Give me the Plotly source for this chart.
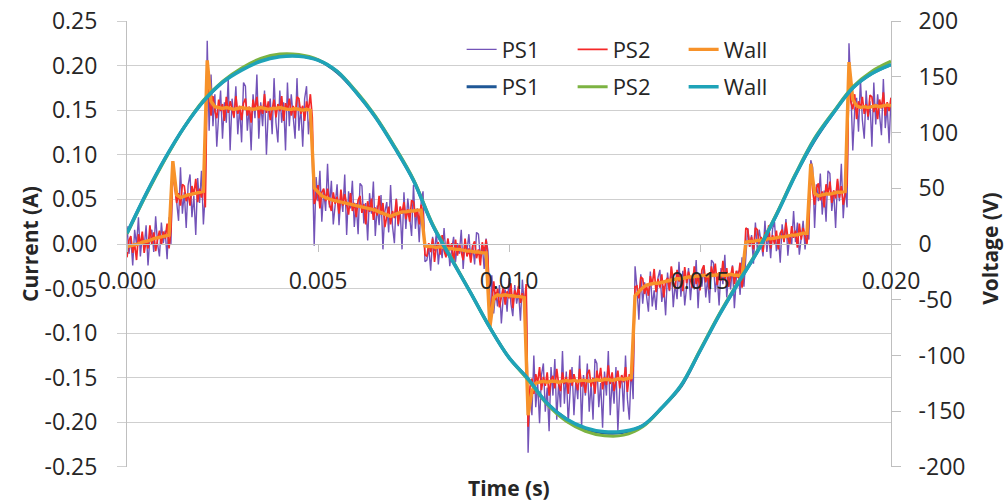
import plotly.graph_objects as go

# ---- data ----
t_fine = [round(j * 0.00005, 5) for j in range(401)]
t_current = [round(i * 0.0001, 4) for i in range(201)]
t_voltage = [round(i * 0.0005, 4) for i in range(41)]

current_ps1 = [
    0.020, -0.011, 0.007, -0.024, 0.016, -0.001, 0.030, -0.014, 0.011, -0.004,
    0.021, -0.024, 0.008, 0.016, -0.009, 0.031, 0.000, -0.014, 0.024, 0.001,
    0.015, -0.017, 0.030, 0.000, 0.090, 0.070, 0.050, 0.026, 0.086, 0.034,
    0.058, 0.018, 0.066, 0.078, 0.030, 0.054, 0.010, 0.074, 0.046, 0.082,
    0.022, 0.058, 0.228, 0.127, 0.190, 0.132, 0.168, 0.109, 0.145, 0.172,
    0.118, 0.159, 0.136, 0.186, 0.105, 0.163, 0.141, 0.177, 0.123, 0.154,
    0.114, 0.181, 0.177, 0.127, 0.154, 0.105, 0.168, 0.141, 0.190, 0.118,
    0.159, 0.132, 0.172, 0.100, 0.150, 0.163, 0.123, 0.186, 0.136, 0.114,
    0.172, 0.136, 0.159, 0.105, 0.181, 0.132, 0.168, 0.145, 0.118, 0.186,
    0.127, 0.154, 0.109, 0.163, 0.177, 0.123, 0.150, 0.100, -0.002, 0.075,
    0.048, 0.082, 0.025, 0.060, 0.037, 0.090, 0.041, 0.071, 0.022, 0.044,
    0.067, 0.021, 0.055, 0.036, 0.078, 0.010, 0.059, 0.040, 0.071, 0.019,
    0.046, 0.011, 0.068, 0.065, 0.023, 0.046, 0.004, 0.057, 0.034, 0.070,
    0.009, 0.043, 0.021, 0.055, -0.006, 0.036, 0.047, 0.013, 0.066, 0.020,
    0.001, 0.051, 0.020, 0.039, -0.006, 0.058, 0.017, 0.051, 0.032, 0.009,
    0.066, 0.017, 0.040, 0.002, 0.047, 0.059, -0.020, -0.018, -0.004, -0.030,
    0.008, -0.008, 0.013, -0.023, -0.001, -0.016, 0.018, -0.013, 0.006, -0.025,
    -0.006, 0.008, -0.020, 0.001, -0.011, 0.016, -0.028, 0.004, -0.008, 0.011,
    -0.018, -0.001, -0.023, 0.013, 0.011, -0.016, -0.001, -0.028, 0.006, -0.008,
    -0.095, -0.035, -0.078, -0.054, -0.070, -0.046, -0.089, -0.059, -0.051, -0.076,
    -0.038, -0.067, -0.081, -0.046, -0.067, -0.054, -0.086, -0.040, -0.070, -0.049,
    -0.234, -0.165, -0.192, -0.125, -0.183, -0.156, -0.201, -0.147, -0.134, -0.188,
    -0.161, -0.210, -0.138, -0.170, -0.129, -0.197, -0.156, -0.183, -0.120, -0.179,
    -0.143, -0.201, -0.165, -0.138, -0.192, -0.152, -0.174, -0.125, -0.206, -0.147,
    -0.170, -0.134, -0.188, -0.156, -0.197, -0.129, -0.134, -0.183, -0.156, -0.206,
    -0.143, -0.170, -0.120, -0.192, -0.152, -0.179, -0.138, -0.210, -0.161, -0.147,
    -0.188, -0.125, -0.174, -0.197, -0.138, -0.174, -0.025, -0.049, -0.085, -0.034,
    -0.067, -0.043, -0.058, -0.076, -0.031, -0.070, -0.052, -0.074, -0.038, -0.029,
    -0.065, -0.047, -0.080, -0.032, -0.053, -0.026, -0.071, -0.044, -0.062, -0.020,
    -0.059, -0.030, -0.069, -0.045, -0.027, -0.063, -0.036, -0.051, -0.018, -0.072,
    -0.033, -0.048, -0.024, -0.060, -0.039, -0.066, -0.018, -0.021, -0.054, -0.036,
    -0.069, -0.027, -0.045, -0.012, -0.060, -0.033, -0.051, -0.024, -0.072, -0.039,
    -0.030, -0.057, -0.015, -0.048, -0.017, 0.018, -0.003, 0.010, -0.022, 0.024,
    -0.006, 0.016, 0.002, -0.014, 0.026, -0.009, 0.011, -0.016, 0.017, 0.025,
    -0.008, 0.009, -0.021, 0.022, 0.003, 0.028, -0.013, 0.011, -0.001, 0.037,
    0.002, 0.024, -0.012, 0.010, 0.026, -0.006, 0.018, 0.005, 0.094, 0.086,
    0.018, 0.067, 0.048, 0.079, 0.033, 0.060, 0.025, 0.082, 0.079, 0.037,
    0.060, 0.018, 0.071, 0.048, 0.090, 0.029, 0.063, 0.041, 0.225, 0.172,
    0.105, 0.151, 0.164, 0.126, 0.185, 0.139, 0.118, 0.172, 0.139, 0.160,
    0.109, 0.181, 0.134, 0.168, 0.147, 0.122, 0.185, 0.130, 0.155, 0.113,
    0.164,
]

current_ps2 = [
    -0.015, 0.004, 0.009, -0.010, 0.000, -0.018, 0.011, -0.001, 0.014, -0.010,
    0.004, -0.005, 0.021, 0.000, 0.013, -0.008, 0.005, 0.015, -0.001, 0.014,
    0.006, 0.023, -0.005, 0.015, 0.082, 0.065, 0.046, 0.057, 0.043, 0.067,
    0.065, 0.048, 0.057, 0.043, 0.065, 0.055, 0.073, 0.047, 0.062, 0.052,
    0.067, 0.041, 0.190, 0.164, 0.144, 0.166, 0.149, 0.141, 0.162, 0.149,
    0.157, 0.138, 0.165, 0.147, 0.160, 0.152, 0.142, 0.166, 0.146, 0.155,
    0.139, 0.158, 0.163, 0.144, 0.154, 0.136, 0.162, 0.150, 0.165, 0.141,
    0.155, 0.146, 0.168, 0.147, 0.160, 0.139, 0.152, 0.162, 0.142, 0.157,
    0.149, 0.166, 0.138, 0.158, 0.150, 0.163, 0.144, 0.155, 0.141, 0.165,
    0.163, 0.146, 0.155, 0.138, 0.160, 0.150, 0.168, 0.142, 0.045, 0.051,
    0.066, 0.040, 0.058, 0.062, 0.048, 0.062, 0.045, 0.037, 0.058, 0.045,
    0.053, 0.034, 0.061, 0.043, 0.056, 0.043, 0.033, 0.057, 0.037, 0.046,
    0.030, 0.049, 0.054, 0.035, 0.045, 0.022, 0.048, 0.036, 0.051, 0.027,
    0.041, 0.032, 0.054, 0.033, 0.046, 0.019, 0.032, 0.042, 0.022, 0.037,
    0.029, 0.050, 0.022, 0.042, 0.034, 0.047, 0.028, 0.039, 0.025, 0.049,
    0.047, 0.030, 0.039, 0.022, 0.044, 0.034, -0.012, -0.014, 0.001, -0.009,
    0.006, -0.020, -0.002, 0.002, -0.012, 0.010, -0.007, -0.015, 0.006, -0.007,
    0.001, -0.022, 0.005, -0.013, 0.000, -0.008, -0.018, 0.006, -0.014, -0.005,
    -0.021, -0.002, 0.003, -0.016, -0.006, -0.024, 0.002, -0.010, 0.005, -0.019,
    -0.085, -0.064, -0.042, -0.063, -0.050, -0.071, -0.058, -0.048, -0.068, -0.053,
    -0.061, -0.044, -0.072, -0.052, -0.060, -0.047, -0.066, -0.055, -0.069, -0.045,
    -0.205, -0.160, -0.151, -0.168, -0.146, -0.156, -0.138, -0.164, -0.149, -0.159,
    -0.144, -0.170, -0.152, -0.148, -0.162, -0.140, -0.157, -0.165, -0.144, -0.157,
    -0.149, -0.168, -0.141, -0.159, -0.146, -0.154, -0.164, -0.140, -0.160, -0.151,
    -0.167, -0.146, -0.141, -0.160, -0.150, -0.168, -0.142, -0.154, -0.139, -0.163,
    -0.149, -0.158, -0.136, -0.157, -0.144, -0.165, -0.152, -0.142, -0.162, -0.147,
    -0.155, -0.138, -0.166, -0.146, -0.154, -0.141, -0.048, -0.047, -0.061, -0.037,
    -0.039, -0.056, -0.047, -0.058, -0.036, -0.046, -0.028, -0.054, -0.039, -0.049,
    -0.034, -0.060, -0.042, -0.038, -0.052, -0.025, -0.042, -0.050, -0.029, -0.042,
    -0.034, -0.053, -0.026, -0.044, -0.031, -0.039, -0.049, -0.025, -0.045, -0.036,
    -0.052, -0.029, -0.024, -0.043, -0.033, -0.051, -0.025, -0.037, -0.022, -0.046,
    -0.032, -0.041, -0.019, -0.040, -0.027, -0.048, -0.035, -0.025, -0.045, -0.030,
    -0.038, -0.021, -0.049, -0.029, 0.018, 0.016, -0.003, 0.008, -0.006, 0.018,
    0.016, -0.001, 0.008, -0.009, 0.013, 0.003, 0.021, -0.005, 0.010, 0.000,
    0.015, -0.006, 0.012, 0.016, 0.002, 0.024, 0.007, -0.001, 0.020, 0.007,
    0.015, -0.004, 0.023, 0.005, 0.018, 0.010, 0.000, 0.024, 0.085, 0.060,
    0.044, 0.063, 0.068, 0.049, 0.059, 0.041, 0.067, 0.055, 0.070, 0.046,
    0.060, 0.051, 0.073, 0.052, 0.065, 0.044, 0.057, 0.067, 0.195, 0.159,
    0.151, 0.168, 0.140, 0.160, 0.152, 0.165, 0.146, 0.157, 0.143, 0.167,
    0.165, 0.148, 0.157, 0.140, 0.162, 0.152, 0.170, 0.144, 0.159, 0.149,
    0.164,
]

current_wall = [
    -0.003, -0.002, -0.001, 0.000, 0.002, 0.003, 0.004, 0.006, 0.007, 0.008,
    0.009, 0.010, 0.093, 0.055, 0.052, 0.054, 0.055, 0.056, 0.057, 0.058,
    0.059, 0.206, 0.160, 0.154, 0.153, 0.152, 0.153, 0.152, 0.151, 0.152,
    0.153, 0.152, 0.152, 0.151, 0.152, 0.153, 0.152, 0.151, 0.152, 0.152,
    0.153, 0.152, 0.151, 0.151, 0.152, 0.151, 0.150, 0.151, 0.150, 0.063,
    0.058, 0.054, 0.052, 0.050, 0.049, 0.048, 0.047, 0.046, 0.045, 0.044,
    0.043, 0.042, 0.041, 0.040, 0.039, 0.038, 0.036, 0.034, 0.032, 0.031,
    0.033, 0.035, 0.036, 0.036, 0.037, 0.037, 0.038, 0.038, -0.002, -0.003,
    -0.003, -0.004, -0.003, -0.004, -0.005, -0.005, -0.006, -0.006, -0.007, -0.008,
    -0.008, -0.009, -0.009, -0.010, -0.010, -0.093, -0.060, -0.057, -0.058, -0.057,
    -0.058, -0.058, -0.059, -0.059, -0.060, -0.192, -0.165, -0.156, -0.155, -0.154,
    -0.155, -0.154, -0.154, -0.155, -0.154, -0.153, -0.154, -0.153, -0.154, -0.153,
    -0.153, -0.154, -0.153, -0.152, -0.153, -0.152, -0.152, -0.153, -0.152, -0.151,
    -0.152, -0.151, -0.150, -0.058, -0.053, -0.049, -0.046, -0.045, -0.044, -0.044,
    -0.043, -0.042, -0.041, -0.040, -0.039, -0.039, -0.038, -0.037, -0.037, -0.036,
    -0.036, -0.035, -0.036, -0.035, -0.035, -0.034, -0.035, -0.035, -0.034, -0.035,
    -0.035, -0.036, 0.002, 0.003, 0.003, 0.004, 0.004, 0.005, 0.006, 0.006,
    0.007, 0.008, 0.008, 0.009, 0.010, 0.010, 0.011, 0.012, 0.012, 0.090,
    0.057, 0.054, 0.055, 0.056, 0.056, 0.057, 0.058, 0.058, 0.059, 0.204,
    0.162, 0.155, 0.153, 0.154, 0.153, 0.154, 0.155, 0.154, 0.155, 0.156,
    0.155,
]

voltage_ps1 = [10, 45, 77, 105, 128, 145, 157, 165, 168.5, 169, 165, 154, 136, 114, 87, 57,
               17, -14, -44, -75, -102, -121, -143, -157, -166, -169.5, -169, -163, -147,
               -128, -96, -64, -35, -7, 26, 62, 93, 118, 140, 153, 161]
voltage_ps2 = [9, 44, 76, 105, 129, 146, 158, 166.5, 170.5, 170, 165.5, 155, 137, 115, 88, 58,
               18, -13, -44, -75, -102, -122, -144, -159, -168, -172, -171.5, -164, -147,
               -127, -95, -63, -34, -6, 27, 63, 95, 119, 141, 155, 164]
voltage_wall = [9.6, 45, 77, 105, 128, 145, 156, 164, 168, 168.5, 165, 155, 136, 114, 87, 57,
                17, -14, -44, -75, -102, -121, -143, -157, -165, -168.5, -168, -163, -147,
                -127, -96, -64, -35, -7, 26, 62, 94, 118, 140, 153, 161]

assert len(current_ps1) == len(current_ps2) == len(t_fine)
assert len(current_wall) == len(t_current)
assert len(voltage_ps1) == len(voltage_ps2) == len(voltage_wall) == len(t_voltage)

x_ticks = [0.0, 0.005, 0.010, 0.015, 0.020]
x_labels = ["0.000", "0.005", "0.010", "0.015", "0.020"]
y_ticks = [-0.25, -0.20, -0.15, -0.10, -0.05, 0.0, 0.05, 0.10, 0.15, 0.20, 0.25]
y_labels = ["-0.25", "-0.20", "-0.15", "-0.10", "-0.05", "0.00", "0.05", "0.10", "0.15", "0.20", "0.25"]
y2_ticks = [-200, -150, -100, -50, 0, 50, 100, 150, 200]
y2_labels = ["-200", "-150", "-100", "-50", "0", "50", "100", "150", "200"]

# ---- styles ----
FONT = "Open Sans"
C_PS1_I = "#7353b8"
C_PS2_I = "#f52828"
C_WALL_I = "#f7922a"
C_PS1_V = "#1f5796"
C_PS2_V = "#7cb342"
C_WALL_V = "#1fa3b8"
GRID = "#cfcfcf"
AXIS = "#bfbfbf"
TXT = "#262626"

fig = go.Figure()
fig.add_trace(go.Scatter(x=t_fine, y=current_ps1, name="PS1", mode="lines",
                         line=dict(color=C_PS1_I, width=1.4), legend="legend"))
fig.add_trace(go.Scatter(x=t_fine, y=current_ps2, name="PS2", mode="lines",
                         line=dict(color=C_PS2_I, width=1.7), legend="legend"))
fig.add_trace(go.Scatter(x=t_current, y=current_wall, name="Wall", mode="lines",
                         line=dict(color=C_WALL_I, width=3.4), legend="legend"))
fig.add_trace(go.Scatter(x=t_voltage, y=voltage_ps1, name="PS1", mode="lines", yaxis="y2",
                         line=dict(color=C_PS1_V, width=3, shape="spline"), legend="legend2"))
fig.add_trace(go.Scatter(x=t_voltage, y=voltage_ps2, name="PS2", mode="lines", yaxis="y2",
                         line=dict(color=C_PS2_V, width=3, shape="spline"), legend="legend2"))
fig.add_trace(go.Scatter(x=t_voltage, y=voltage_wall, name="Wall", mode="lines", yaxis="y2",
                         line=dict(color=C_WALL_V, width=3.5, shape="spline"), legend="legend2"))

legend_common = dict(orientation="h", xanchor="left", yanchor="middle",
                     entrywidth=66, entrywidthmode="pixels", itemwidth=30,
                     bgcolor="rgba(0,0,0,0)", font=dict(family=FONT, size=22, color=TXT),
                     tracegroupgap=0)

tickfont = dict(family=FONT, size=23, color=TXT)

fig.update_layout(
    width=1008, height=502,
    margin=dict(l=127, r=117, t=21, b=35, autoexpand=False),
    paper_bgcolor="white", plot_bgcolor="white",
    font=dict(family=FONT, size=22, color=TXT),
    showlegend=True,
    legend=dict(x=0.438, y=0.936, **legend_common),
    legend2=dict(x=0.438, y=0.852, **legend_common),
    xaxis=dict(range=[0, 0.02], tickvals=x_ticks, ticktext=x_labels, automargin=False,
               anchor="free", position=0.5, showline=True, linecolor=AXIS, linewidth=1,
               ticks="outside", ticklen=7, tickcolor=AXIS, showgrid=False, zeroline=False,
               tickfont=tickfont, ticklabelstandoff=9, ticklabeloverflow="allow"),
    yaxis=dict(range=[-0.2501, 0.2501], tickvals=y_ticks, ticktext=y_labels, automargin=False,
               showline=True, linecolor=AXIS, linewidth=1, showgrid=True, gridcolor=GRID,
               gridwidth=1, zeroline=False, ticks="outside", ticklen=9, tickcolor=GRID,
               tickfont=tickfont, ticklabelstandoff=15, ticklabeloverflow="allow"),
    yaxis2=dict(range=[-200.1, 200.1], tickvals=y2_ticks, ticktext=y2_labels, overlaying="y",
                side="right", automargin=False,
                showline=True, linecolor=AXIS, linewidth=1, showgrid=False, zeroline=False,
                ticks="outside", ticklen=9, tickcolor=AXIS,
                tickfont=tickfont, ticklabelstandoff=13, ticklabeloverflow="allow"),
    annotations=[
        dict(text="<b>Time (s)</b>", x=0.5, y=-0.046, xref="paper", yref="paper",
             xanchor="center", yanchor="middle", showarrow=False,
             font=dict(family=FONT, size=21, color=TXT)),
        dict(text="<b>Current (A)</b>", x=-0.127, y=0.5, xref="paper", yref="paper",
             xanchor="center", yanchor="middle", textangle=-90, showarrow=False,
             font=dict(family=FONT, size=21, color=TXT)),
        dict(text="<b>Voltage (V)</b>", x=1.13, y=0.49, xref="paper", yref="paper",
             xanchor="center", yanchor="middle", textangle=-90, showarrow=False,
             font=dict(family=FONT, size=21, color=TXT)),
    ],
)

# remove the browser's default 8 px body margin so the figure fills the window
fig.write_html("out.html", config={"displayModeBar": False},
               post_script="document.body.style.margin = '0';")
